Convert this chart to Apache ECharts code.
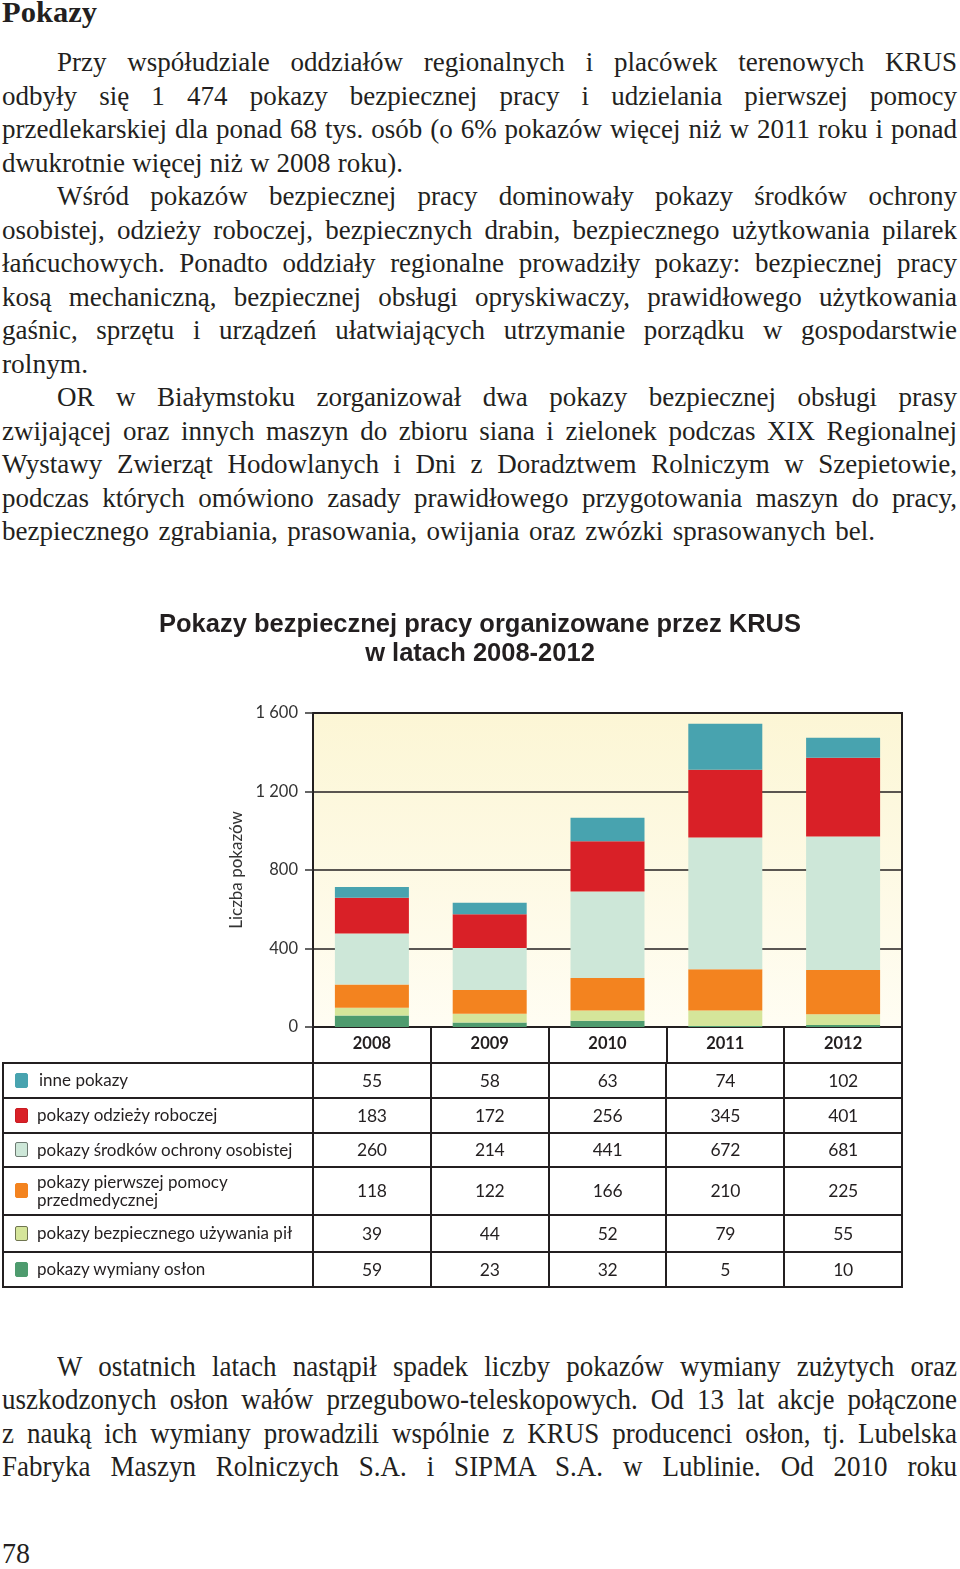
<!DOCTYPE html>
<html>
<head>
<meta charset="utf-8">
<script src="https://cdn.jsdelivr.net/npm/echarts@6/dist/echarts.min.js"></script>
<style>
html,body{margin:0;padding:0;background:#fff;}
body{width:960px;height:1569px;position:relative;overflow:hidden;}
.ln{position:absolute;white-space:nowrap;font-family:"Liberation Serif","Times New Roman",serif;color:#231f20;transform-origin:0 0;}
.tl{position:absolute;background:#231f20;}
.cell{position:absolute;font-family:Lato,"Open Sans",sans-serif;color:#231f20;display:flex;align-items:center;}
.sq{position:absolute;width:13px;height:15px;border-radius:2px;box-sizing:border-box;}
#chart{position:absolute;left:0;top:590px;width:960px;height:720px;}
</style>
</head>
<body>
<div id="chart"></div>
<script>
// ---------- data ----------
const years = ['2008', '2009', '2010', '2011', '2012'];
const seriesNames = ['inne pokazy', 'pokazy odzieży roboczej', 'pokazy środków ochrony osobistej',
  'pokazy pierwszej pomocy\nprzedmedycznej', 'pokazy bezpiecznego używania pił', 'pokazy wymiany osłon'];
// values printed in the table
const inne = [55, 58, 63, 74, 102];
const odziez = [183, 172, 256, 345, 401];
const srodki = [260, 214, 441, 672, 681];
const pierwszaPomoc = [118, 122, 166, 210, 225];
const pily = [39, 44, 52, 79, 55];
const oslony = [59, 23, 32, 5, 10];
// top (teal) segment as it is drawn in the bars
const inneDrawn = [55, 58, 119, 234, 102];
const yTicks = [0, 400, 800, 1200, 1600];
const chartTitle = 'Pokazy bezpiecznej pracy organizowane przez KRUS\nw latach 2008-2012';
const yName = 'Liczba pokazów';

// ---------- page text ----------
// [text, left, right, baseline, size, bold, condensed]
const textLines = [
  ['Pokazy', 2, 97, 22, 29, true],
  ['Przy współudziale oddziałów regionalnych i placówek terenowych KRUS', 57, 957, 72],
  ['odbyły się 1 474 pokazy bezpiecznej pracy i udzielania pierwszej pomocy', 2, 957, 105.5],
  ['przedlekarskiej dla ponad 68 tys. osób (o 6% pokazów więcej niż w 2011 roku i ponad', 2, 957, 139],
  ['dwukrotnie więcej niż w 2008 roku).', 2, 403, 172.5],
  ['Wśród pokazów bezpiecznej pracy dominowały pokazy środków ochrony', 57, 957, 206],
  ['osobistej, odzieży roboczej, bezpiecznych drabin, bezpiecznego użytkowania pilarek', 2, 957, 239.5],
  ['łańcuchowych. Ponadto oddziały regionalne prowadziły pokazy: bezpiecznej pracy', 2, 957, 273],
  ['kosą mechaniczną, bezpiecznej obsługi opryskiwaczy, prawidłowego użytkowania', 2, 957, 306.5],
  ['gaśnic, sprzętu i urządzeń ułatwiających utrzymanie porządku w gospodarstwie', 2, 957, 340],
  ['rolnym.', 2, 88, 373.5],
  ['OR w Białymstoku zorganizował dwa pokazy bezpiecznej obsługi prasy', 57, 957, 407],
  ['zwijającej oraz innych maszyn do zbioru siana i zielonek podczas XIX Regionalnej', 2, 957, 440.5],
  ['Wystawy Zwierząt Hodowlanych i Dni z Doradztwem Rolniczym w Szepietowie,', 2, 957, 474],
  ['podczas których omówiono zasady prawidłowego przygotowania maszyn do pracy,', 2, 957, 507.5],
  ['bezpiecznego zgrabiania, prasowania, owijania oraz zwózki sprasowanych bel.', 2, 875, 541],
  ['W ostatnich latach nastąpił spadek liczby pokazów wymiany zużytych oraz', 57, 957, 1376, 30, false, true],
  ['uszkodzonych osłon wałów przegubowo-teleskopowych. Od 13 lat akcje połączone', 2, 957, 1409.5, 30, false, true],
  ['z nauką ich wymiany prowadzili wspólnie z KRUS producenci osłon, tj. Lubelska', 2, 957, 1443, 30, false, true],
  ['Fabryka Maszyn Rolniczych S.A. i SIPMA S.A. w Lublinie. Od 2010 roku', 2, 957, 1476.5, 30, false, true],
  ['78', 2, 30, 1563, 29, false, true]
];
textLines.forEach(function (L) {
  const size = L[4] || 27;
  const d = document.createElement('div');
  d.className = 'ln';
  d.textContent = L[0];
  d.style.fontSize = size + 'px';
  d.style.lineHeight = size + 'px';
  if (L[5]) d.style.fontWeight = 'bold';
  d.style.left = L[1] + 'px';
  d.style.top = (L[3] - 0.8375 * size) + 'px';
  document.body.appendChild(d);
  const target = L[2] - L[1];
  const n = (L[0].match(/ /g) || []).length;
  if (L[6]) {
    // condensed type: narrow glyphs, moderate word spacing
    const w0 = d.getBoundingClientRect().width;
    if (n > 0) {
      const ws = Math.max(0, (target / 0.9 - w0) / n);
      d.style.wordSpacing = ws + 'px';
    }
    const w = d.getBoundingClientRect().width;
    d.style.transform = 'scaleX(' + (target / w) + ')';
    return;
  }
  const w = d.getBoundingClientRect().width;
  if (w <= target && n > 0) {
    d.style.wordSpacing = ((target - w) / n) + 'px';
  } else {
    d.style.transform = 'scaleX(' + (target / w) + ')';
  }
});

// ---------- table ----------
const colors = ['#48a3af', '#d92027', '#cde7d8', '#f3831f', '#d5e59a', '#4e9b6e'];
const sqBorders = ['#48a3af', '#c81c22', '#6d7a72', '#f3831f', '#6f7550', '#4e9b6e'];
const tableRows = [inne, odziez, srodki, pierwszaPomoc, pily, oslony];
const rowB = [1062.5, 1097.5, 1132.5, 1166.5, 1215, 1251.5, 1286.5];
const colB = [3, 313, 430.8, 548.6, 666.4, 784.2, 902];
function line(x, y, w, h) {
  const e = document.createElement('div');
  e.className = 'tl';
  e.style.left = x + 'px'; e.style.top = y + 'px';
  e.style.width = w + 'px'; e.style.height = h + 'px';
  document.body.appendChild(e);
}
rowB.forEach(function (y) { line(colB[0] - 1, y - 1, colB[6] - colB[0] + 2, 2); });
colB.forEach(function (x) { line(x - 1, rowB[0] - 1, 2, rowB[6] - rowB[0] + 2); });
tableRows.forEach(function (vals, r) {
  const top = rowB[r], h = rowB[r + 1] - rowB[r];
  const sq = document.createElement('div');
  sq.className = 'sq';
  sq.style.background = colors[r];
  sq.style.border = '1px solid ' + sqBorders[r];
  sq.style.left = '15px';
  sq.style.top = (top + h / 2 - 7.5) + 'px';
  document.body.appendChild(sq);
  const lab = document.createElement('div');
  lab.className = 'cell';
  lab.style.left = (r === 0 ? 39 : 37) + 'px';
  lab.style.top = top + 'px';
  lab.style.height = h + 'px';
  lab.style.fontSize = '17px';
  lab.style.lineHeight = '18px';
  lab.innerHTML = seriesNames[r].replace('\n', '<br>');
  document.body.appendChild(lab);
  vals.forEach(function (v, c) {
    const e = document.createElement('div');
    e.className = 'cell';
    e.style.left = colB[c + 1] + 'px';
    e.style.width = (colB[c + 2] - colB[c + 1]) + 'px';
    e.style.top = top + 'px';
    e.style.height = h + 'px';
    e.style.justifyContent = 'center';
    e.style.fontSize = '17.5px';
    e.style.letterSpacing = '-0.3px';
    e.textContent = v;
    document.body.appendChild(e);
  });
});

// ---------- chart ----------
const chart = echarts.init(document.getElementById('chart'), null, {renderer: 'canvas'});
const barData = [oslony, pily, pierwszaPomoc, srodki, odziez, inneDrawn];
const barColors = ['#4e9b6e', '#d5e59a', '#f3831f', '#cde7d8', '#d92027', '#48a3af'];
const barNames = [seriesNames[5], seriesNames[4], seriesNames[3], seriesNames[2], seriesNames[1], seriesNames[0]];
function fmt(v) { return String(v).replace(/\B(?=(\d{3})+(?!\d))/g, ' '); }
chart.setOption({
  animation: false,
  title: {
    text: chartTitle, left: 'center', top: 20, padding: 0,
    textStyle: {fontFamily: 'Liberation Sans, Arial, sans-serif', fontWeight: 'bold', fontSize: 25.5, lineHeight: 29, color: '#231f20'}
  },
  grid: {
    left: 313, top: 123, width: 589, height: 314, show: true,
    borderColor: '#231f20', borderWidth: 2,
    backgroundColor: new echarts.graphic.LinearGradient(0, 0, 0, 1, [
      {offset: 0, color: '#fcf6d5'}, {offset: 1, color: '#fffdf3'}])
  },
  xAxis: {
    type: 'category', data: years,
    axisLine: {show: true, lineStyle: {color: '#231f20', width: 2}},
    axisTick: {show: true, interval: 0, length: 35, lineStyle: {color: '#231f20', width: 2}},
    axisLabel: {margin: 17, verticalAlign: 'middle', fontFamily: 'Lato, sans-serif', fontWeight: 'bold', fontSize: 16.5, color: '#231f20'}
  },
  yAxis: {
    type: 'value', min: yTicks[0], max: yTicks[yTicks.length - 1], interval: yTicks[1] - yTicks[0],
    name: yName, nameLocation: 'middle', nameGap: 52, nameRotate: 90,
    nameTextStyle: {fontFamily: 'Lato, sans-serif', fontSize: 17, color: '#333'},
    axisLine: {show: true, lineStyle: {color: '#231f20', width: 2}},
    axisTick: {show: true, length: 8, lineStyle: {color: '#333', width: 1.5}},
    axisLabel: {margin: 15, formatter: fmt, fontFamily: 'Lato, sans-serif', fontSize: 16.5, color: '#333'},
    splitLine: {show: true, lineStyle: {color: '#231f20', width: 1.5}}
  },
  series: barData.map(function (d, i) {
    return {type: 'bar', name: barNames[i], stack: 'all', data: d, barWidth: 74,
      itemStyle: {color: barColors[i]}};
  })
});
</script>
</body>
</html>
